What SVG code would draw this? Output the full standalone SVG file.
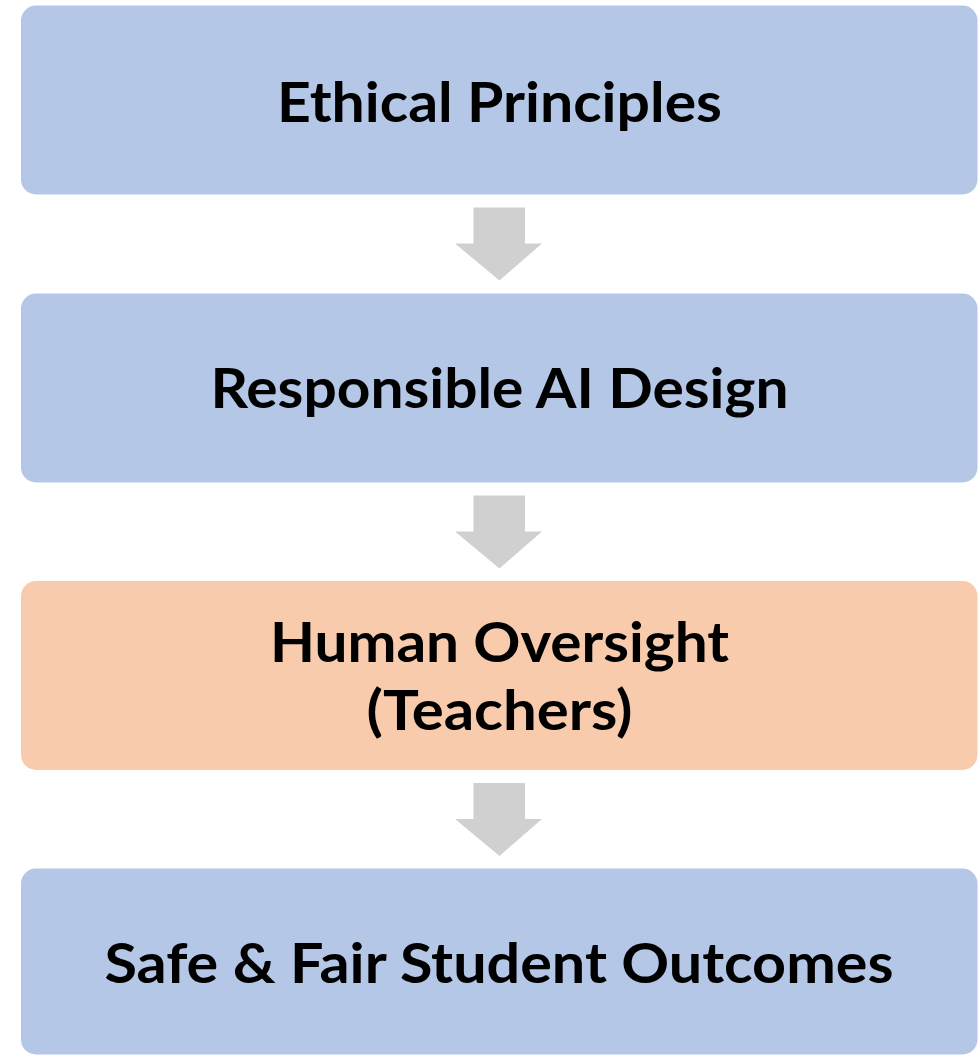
<svg xmlns="http://www.w3.org/2000/svg" width="978" height="1055" viewBox="0 0 978 1055">
<style>
.box{fill:#B4C7E7;}
.box.hl{fill:#F8CBAD;}
.lbl{font-family:Lato,"Open Sans","Liberation Sans",sans-serif;font-weight:700;font-size:56px;fill:#000;text-anchor:middle;}
.arr{fill:#D0D0D0;}
</style>
<defs>
<polygon id="down" class="arr" points="473.5,0 525,0 525,36 542,36 499.5,73 455,36 473.5,36"/>
</defs>
<rect width="978" height="1055" fill="#FFFFFF"/>
<g id="connectors">
<use href="#down" x="0" y="207.5"/>
<use href="#down" x="0" y="495.5"/>
<use href="#down" x="0" y="783"/>
</g>
<g id="node-ethical">
<rect class="box" x="21" y="5.5" width="956.5" height="189" rx="15"/>
<text class="lbl" x="499.5" y="122" textLength="445" lengthAdjust="spacingAndGlyphs">Ethical Principles</text>
</g>
<g id="node-responsible">
<rect class="box" x="21" y="293.5" width="956.5" height="189" rx="15"/>
<text class="lbl" x="499.5" y="408" textLength="578" lengthAdjust="spacingAndGlyphs">Responsible AI Design</text>
</g>
<g id="node-oversight">
<rect class="box hl" x="21" y="581" width="956.5" height="189" rx="15"/>
<text class="lbl" x="499.5" y="662" textLength="459" lengthAdjust="spacingAndGlyphs">Human Oversight</text>
<text class="lbl" x="499.5" y="730" textLength="266" lengthAdjust="spacingAndGlyphs">(Teachers)</text>
</g>
<g id="node-outcomes">
<rect class="box" x="21" y="868.5" width="956.5" height="186" rx="15"/>
<text class="lbl" x="499" y="983" textLength="789" lengthAdjust="spacingAndGlyphs">Safe &amp; Fair Student Outcomes</text>
</g>
</svg>
